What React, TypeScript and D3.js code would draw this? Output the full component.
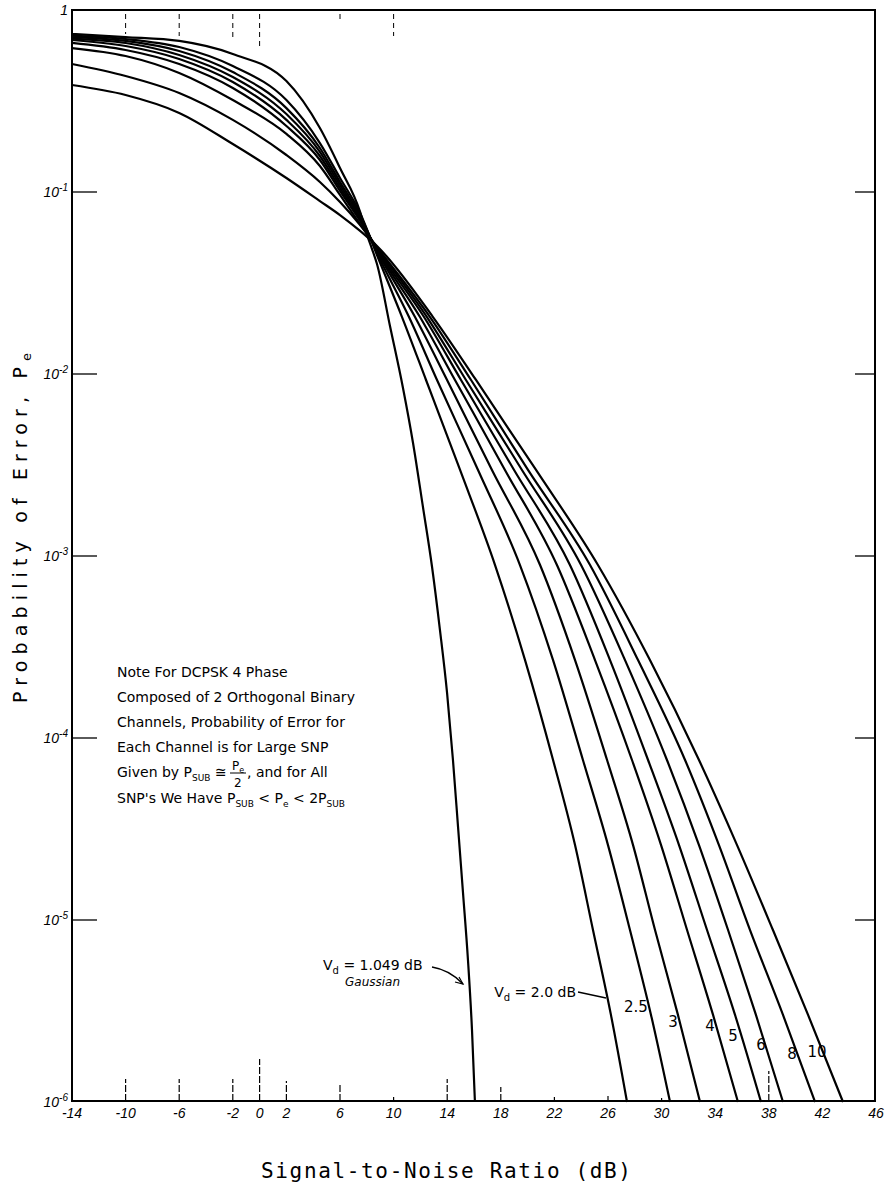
import React from 'react';
import * as d3 from 'd3';

type Pt = [number, number];

// x axis ticks (SNR, dB)
const xTicks = [-14, -10, -6, -2, 0, 2, 6, 10, 14, 18, 22, 26, 30, 34, 38, 42, 46];
// y decades
const yDecades = [1, 1e-1, 1e-2, 1e-3, 1e-4, 1e-5, 1e-6];
const yExps = ['', '-1', '-2', '-3', '-4', '-5', '-6'];

// Curves: [SNR dB, Probability of error]
const gaussian: Pt[] = [[-14,0.738],[-10,0.710],[-6,0.676],[-2,0.573],[2,0.407],[4.5,0.2247],[6,0.1355],[7.5,0.0777],[7.94,0.0603],[8.39,0.0486],[8.76,0.0402],[9.73,0.01835],[10.70,0.00838],[11.45,0.00418],[12.19,0.00186],[12.87,8.7e-4],[13.46,3.92e-4],[13.99,1.77e-4],[14.43,7.57e-5],[14.81,3.24e-5],[15.18,1.41e-5],[15.55,6.03e-6],[15.85,2.49e-6],[16.07,1e-6]];
const vd2: Pt[] = [[-14,0.724],[-10,0.693],[-6,0.626],[-2,0.492],[2,0.320],[4.5,0.1858],[6,0.1194],[7.5,0.0767],[8.76,0.0450],[10.63,0.02056],[12.42,0.00927],[14.96,0.00297],[17.57,8.92e-4],[19.81,2.68e-4],[21.90,7.57e-5],[23.54,2.58e-5],[24.88,8.81e-6],[26.22,3.01e-6],[27.42,1e-6]];
const vd25: Pt[] = [[-14,0.710],[-10,0.676],[-6,0.595],[-2,0.456],[2,0.289],[4.5,0.1745],[6,0.1135],[7.5,0.0747],[8.76,0.0462],[11.15,0.02056],[13.24,0.00927],[16.30,0.00297],[19.43,8.92e-4],[21.90,2.68e-4],[24.13,7.57e-5],[26.00,2.58e-5],[27.64,8.81e-6],[29.21,3.01e-6],[30.63,1e-6]];
const vd3: Pt[] = [[-14,0.697],[-10,0.659],[-6,0.566],[-2,0.428],[2,0.268],[4.5,0.1659],[6,0.1093],[7.5,0.0729],[8.76,0.0474],[11.60,0.02056],[13.99,0.00927],[17.34,0.00297],[20.93,8.92e-4],[23.54,2.68e-4],[25.93,7.57e-5],[27.87,2.58e-5],[29.51,8.81e-6],[31.22,3.01e-6],[32.87,1e-6]];
const vd4: Pt[] = [[-14,0.684],[-10,0.634],[-6,0.538],[-2,0.402],[2,0.249],[4.5,0.1577],[6,0.1052],[7.5,0.0711],[8.76,0.0480],[11.97,0.02056],[14.58,0.00927],[18.31,0.00297],[22.19,8.92e-4],[25.03,2.68e-4],[27.79,7.57e-5],[29.96,2.58e-5],[31.90,8.81e-6],[33.84,3.01e-6],[35.70,1e-6]];
const vd5: Pt[] = [[-14,0.659],[-10,0.603],[-6,0.505],[-2,0.373],[2,0.2305],[4.5,0.1499],[6,0.1013],[7.5,0.0693],[8.76,0.0486],[12.27,0.02056],[15.03,0.00927],[18.99,0.00297],[23.16,8.92e-4],[26.15,2.68e-4],[28.99,7.57e-5],[31.30,2.58e-5],[33.39,8.81e-6],[35.48,3.01e-6],[37.42,1e-6]];
const vd6: Pt[] = [[-14,0.618],[-10,0.559],[-6,0.451],[-2,0.320],[2,0.2084],[4.5,0.1389],[6,0.0963],[7.5,0.0667],[8.76,0.0492],[12.49,0.02056],[15.40,0.00927],[19.58,0.00297],[23.99,8.92e-4],[27.27,2.68e-4],[30.40,7.57e-5],[32.79,2.58e-5],[34.96,8.81e-6],[37.04,3.01e-6],[39.06,1e-6]];
const vd8: Pt[] = [[-14,0.505],[-10,0.434],[-6,0.350],[-2,0.249],[2,0.1597],[4.5,0.1135],[6,0.0881],[7.5,0.0659],[8.76,0.0498],[12.72,0.02056],[15.78,0.00927],[20.03,0.00297],[24.66,8.92e-4],[28.24,2.68e-4],[31.75,7.57e-5],[34.28,2.58e-5],[36.60,8.81e-6],[39.06,3.01e-6],[41.45,1e-6]];
const vd10: Pt[] = [[-14,0.387],[-10,0.341],[-6,0.272],[-2,0.1835],[2,0.1194],[4.5,0.0892],[6,0.0747],[7.5,0.0611],[8.76,0.0505],[12.94,0.02056],[16.15,0.00927],[20.63,0.00297],[25.25,8.92e-4],[29.13,2.68e-4],[32.79,7.57e-5],[35.63,2.58e-5],[38.31,8.81e-6],[40.93,3.01e-6],[43.54,1e-6]];

const seriesList: Pt[][] = [gaussian, vd2, vd25, vd3, vd4, vd5, vd6, vd8, vd10];

// curve labels (Vd values) written near the bottom
const curveLabels = ['2.5', '3', '4', '5', '6', '8', '10'];

// scan tick marks inside the frame: [SNR, length px]
const bottomMarks: Pt[] = [[-10,22],[-6,22],[-2,22],[0,42],[2,20],[6,18],[10,4],[14,22],[18,14],[22,4],[26,5],[30,3],[38,30]];
const topMarks: Pt[] = [[-10,20],[-6,22],[-2,24],[0,34],[6,8],[10,22]];

export default function App() {
  const W = 891, H = 1185;
  const L = 72, R = 875, T = 10, B = 1101;
  const x = d3.scaleLinear().domain([-14, 46]).range([L, R + 1]);
  const y = d3.scaleLog().domain([1, 1e-6]).range([T, B + 1]);
  const line = d3.line<Pt>().x(d => x(d[0])).y(d => y(d[1])).curve(d3.curveMonotoneX);

  const labelPos: Pt[] = [[636,1012],[673,1027],[710,1031],[733,1041],[761,1050],[792,1059],[817,1057]];
  const noteFont = 'DejaVu Sans, Verdana, sans-serif';

  return (
    <svg width={W} height={H} style={{ position: 'absolute', left: 0, top: 0, background: '#fff' }}
      xmlns="http://www.w3.org/2000/svg">
      <rect x={0} y={0} width={W} height={H} fill="#fff" />
      {/* frame */}
      <rect x={L} y={T} width={R - L} height={B - T} fill="none" stroke="#000" strokeWidth={2} />

      {/* y ticks left & right */}
      {yDecades.map((d, i) => (
        <g key={'yt' + i}>
          {i > 0 && i < 6 && <line x1={L} x2={L + 25} y1={y(d)} y2={y(d)} stroke="#000" strokeWidth={1.3} />}
          {i > 0 && i < 6 && <line x1={R - 20} x2={R} y1={y(d)} y2={y(d)} stroke="#000" strokeWidth={1.3} />}
          <text x={68} y={y(d) + 5} textAnchor="end" fontFamily="Liberation Sans, Arial, sans-serif"
            fontSize={14} fontStyle="italic" fill="#000">
            {i === 0 ? '1' : <>10<tspan dy={-6} fontSize={10}>{yExps[i]}</tspan></>}
          </text>
        </g>
      ))}

      {/* x tick labels */}
      {xTicks.map((t, i) => (
        <text key={'xt' + i} x={x(t)} y={1118} textAnchor="middle" fontFamily="Liberation Sans, Arial, sans-serif"
          fontSize={14} fontStyle="italic" fill="#000">{t}</text>
      ))}

      {/* scan tick marks */}
      {bottomMarks.map((m, i) => (
        <line key={'bm' + i} x1={x(m[0])} x2={x(m[0])} y1={B} y2={B - m[1]} stroke="#000" strokeWidth={1.2}
          strokeDasharray={m[1] > 10 ? '7,2' : undefined} />
      ))}
      {topMarks.map((m, i) => (
        <line key={'tm' + i} x1={x(m[0])} x2={x(m[0])} y1={T + 4} y2={T + 4 + m[1]} stroke="#000" strokeWidth={1}
          strokeDasharray="5,4" />
      ))}

      {/* curves */}
      {seriesList.map((s, i) => (
        <path key={'c' + i} d={line(s) || ''} fill="none" stroke="#000" strokeWidth={2.2} strokeLinejoin="round" />
      ))}

      {/* curve labels */}
      {curveLabels.map((lab, i) => (
        <text key={'cl' + i} x={labelPos[i][0]} y={labelPos[i][1]} textAnchor="middle"
          fontFamily={noteFont} fontSize={15} fill="#000">{lab}</text>
      ))}

      {/* Vd = 2.0 dB */}
      <text x={576} y={997} textAnchor="end" fontFamily={noteFont} fontSize={14} fill="#000">
        V<tspan dy={4} fontSize={10}>d</tspan><tspan dy={-4}> = 2.0 dB</tspan>
      </text>
      <line x1={578} y1={992} x2={606} y2={998} stroke="#000" strokeWidth={1.3} />

      {/* Vd = 1.049 dB Gaussian */}
      <text x={323} y={970} fontFamily={noteFont} fontSize={14} fill="#000">
        V<tspan dy={4} fontSize={10}>d</tspan><tspan dy={-4}> = 1.049 dB</tspan>
      </text>
      <text x={345} y={986} fontFamily={noteFont} fontSize={12} fontStyle="italic" fill="#000">Gaussian</text>
      <path d="M432,967 Q450,970 463,984" fill="none" stroke="#000" strokeWidth={1.3} />
      <path d="M455,982 L463,984 L459,977" fill="none" stroke="#000" strokeWidth={1.2} />

      {/* note */}
      <g fontFamily={noteFont} fontSize={14} fill="#000">
        <text x={117} y={677}>Note   For DCPSK 4 Phase</text>
        <text x={117} y={702}>Composed of 2 Orthogonal Binary</text>
        <text x={117} y={727}>Channels, Probability of Error for</text>
        <text x={117} y={752}>Each Channel is for Large SNP</text>
        <text x={117} y={777}>Given by P<tspan dy={4} fontSize={9}>SUB</tspan><tspan dy={-4}> ≅</tspan></text>
        <text x={232} y={770} fontSize={12}>P<tspan dy={3} fontSize={8}>e</tspan></text>
        <line x1={230} x2={246} y1={773} y2={773} stroke="#000" strokeWidth={1} />
        <text x={234} y={787} fontSize={12}>2</text>
        <text x={247} y={777}>, and for All</text>
        <text x={117} y={803}>SNP's  We Have P<tspan dy={4} fontSize={9}>SUB</tspan><tspan dy={-4}> &lt; P</tspan><tspan dy={4} fontSize={9}>e</tspan><tspan dy={-4}> &lt; 2P</tspan><tspan dy={4} fontSize={9}>SUB</tspan></text>
      </g>

      {/* axis titles */}
      <text transform="translate(27,528) rotate(-90)" textAnchor="middle" fontFamily="DejaVu Sans, Verdana, sans-serif"
        fontSize={19} fill="#000" textLength={350} lengthAdjust="spacing">
        Probability of Error, P<tspan dy={4} fontSize={13}>e</tspan>
      </text>
      <text x={446} y={1178} textAnchor="middle" fontFamily="DejaVu Sans Mono, monospace" fontSize={21}
        fill="#000" textLength={370} lengthAdjust="spacing">Signal-to-Noise Ratio (dB)</text>
    </svg>
  );
}
